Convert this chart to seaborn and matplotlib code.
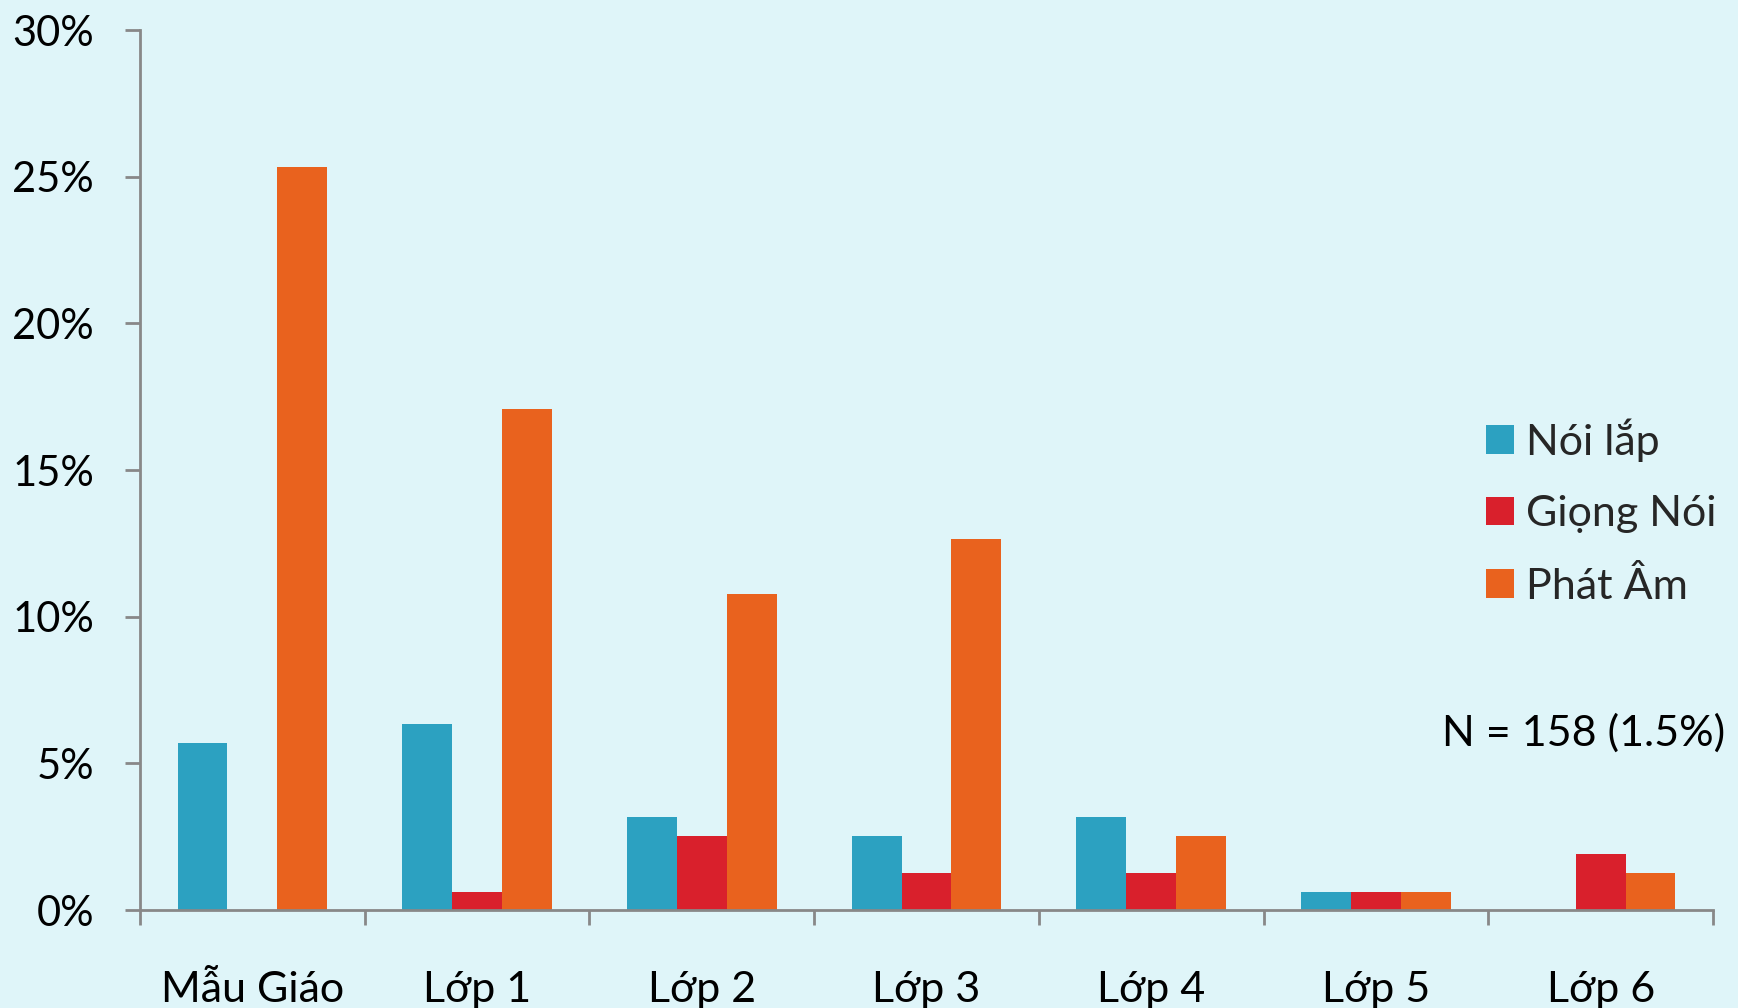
import matplotlib
matplotlib.use("Agg")
import matplotlib.pyplot as plt
import seaborn as sns
import pandas as pd
from matplotlib.ticker import FixedLocator, PercentFormatter

# Values (percent of children per grade)
grades = ["Mẫu Giáo", "Lớp 1", "Lớp 2", "Lớp 3", "Lớp 4", "Lớp 5", "Lớp 6"]
series = ["Nói lắp", "Giọng Nói", "Phát Âm"]
noi_lap = [5.70, 6.33, 3.16, 2.53, 3.16, 0.63, 0.0]
giong_noi = [0.0, 0.63, 2.53, 1.27, 1.27, 0.63, 1.90]
phat_am = [25.32, 17.09, 10.76, 12.66, 2.53, 0.63, 1.27]
y_ticks = [0, 5, 10, 15, 20, 25, 30]
note = "N = 158 (1.5%)"

colors = ["#2CA1C1", "#D9202C", "#E9621E"]
bg = "#DFF5F9"

df = pd.DataFrame({
    "grade": grades * 3,
    "type": [series[0]] * 7 + [series[1]] * 7 + [series[2]] * 7,
    "value": noi_lap + giong_noi + phat_am,
})

sns.set_style("white")
plt.rcParams["font.family"] = ["Lato", "Noto Sans", "DejaVu Sans"]

fig = plt.figure(figsize=(17.38, 10.08), dpi=100, facecolor=bg)
ax = fig.add_axes([140 / 1738, 1 - 910 / 1008, 1573 / 1738, 880 / 1008])
ax.set_facecolor(bg)

sns.barplot(data=df, x="grade", y="value", hue="type", order=grades,
            hue_order=series, palette=colors, width=0.665, gap=0,
            saturation=1, linewidth=0, ax=ax)

ax.set_xlim(-0.5, len(grades) - 0.5)
ax.set_ylim(0, 30)
ax.set_xlabel("")
ax.set_ylabel("")

# axes styling
for s in ["top", "right"]:
    ax.spines[s].set_visible(False)
for s in ["left", "bottom"]:
    ax.spines[s].set_color("#888888")
    ax.spines[s].set_linewidth(2)

ax.yaxis.set_major_locator(FixedLocator(y_ticks))
ax.yaxis.set_major_formatter(PercentFormatter(decimals=0))
ax.tick_params(axis="y", left=True, length=11, width=2, color="#888888",
               pad=22, labelsize=30, labelcolor="black")

ax.set_xticks(range(len(grades)))
ax.set_xticklabels(grades)
ax.set_xticks([i - 0.5 for i in range(len(grades) + 1)], minor=True)
ax.tick_params(axis="x", which="major", bottom=True, length=0, pad=44,
               labelsize=31, labelcolor="black")
ax.tick_params(axis="x", which="minor", bottom=True, length=11, width=2,
               color="#888888")

leg = ax.legend(loc="upper left", bbox_to_anchor=(1486 / 1738, 1 - 418 / 1008),
                bbox_transform=fig.transFigure, frameon=False, fontsize=31,
                handlelength=0.64, handleheight=0.64, handletextpad=0.28,
                labelspacing=0.78, borderpad=0, borderaxespad=0)

fig.text(1725 / 1738, 1 - 733 / 1008, note, ha="right", va="center",
         fontsize=31, color="black")

fig.savefig("out.png", dpi=100, facecolor=bg)
